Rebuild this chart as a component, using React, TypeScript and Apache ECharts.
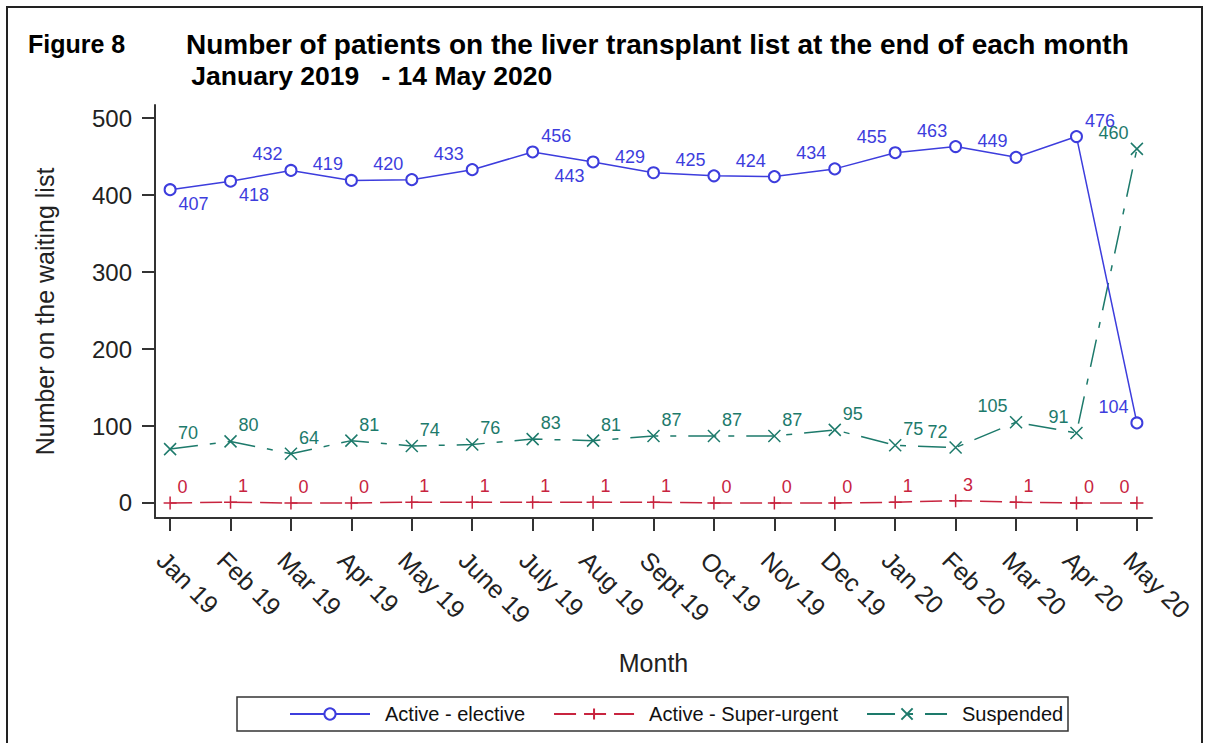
import React, { useEffect, useRef } from "react";
import * as echarts from "echarts";

const months = ["Jan 19", "Feb 19", "Mar 19", "Apr 19", "May 19", "June 19", "July 19", "Aug 19", "Sept 19", "Oct 19", "Nov 19", "Dec 19", "Jan 20", "Feb 20", "Mar 20", "Apr 20", "May 20"];
const activeElective = [407, 418, 432, 419, 420, 433, 456, 443, 429, 425, 424, 434, 455, 463, 449, 476, 104];
const activeSuperUrgent = [0, 1, 0, 0, 1, 1, 1, 1, 1, 0, 0, 0, 1, 3, 1, 0, 0];
const suspended = [70, 80, 64, 81, 74, 76, 83, 81, 87, 87, 87, 95, 75, 72, 105, 91, 460];
const yTicks = [0, 100, 200, 300, 400, 500];

// label placement codes: u/d = above/below, l/r = left/right
const electiveLabelPos = ["dr", "dr", "ul", "ul", "ul", "ul", "ur", "dl", "ul", "ul", "ul", "ul", "ul", "ul", "ul", "ur", "ul"];
const urgentLabelPos = ["ur", "ur", "ur", "ur", "ur", "ur", "ur", "ur", "ur", "ur", "ur", "ur", "ur", "ur", "ur", "ur", "ul"];
const suspendedLabelPos = ["ur", "ur", "ur", "ur", "ur", "ur", "ur", "ur", "ur", "ur", "ur", "ur", "ur", "ul", "ul", "ul", "ul"];

const BLUE = "#3d3ddd";
const RED = "#c8243f";
const TEAL = "#1d7a6b";
const AXIS = "#333333";
const FONT = "'Liberation Sans', Arial, sans-serif";

function buildData(values: number[], pos: string[]) {
  return values.map((v, i) => {
    const txt = String(v);
    const p = pos[i];
    const dx = (5.5 * txt.length + 7) * (p[1] === "r" ? 1 : -1);
    const dy = p[0] === "u" ? -16 : 14;
    return { value: [i, v], label: { offset: [dx, dy] } };
  });
}

const monthIdx = months.map((_, i) => i);

export default function App() {
  const ref = useRef<HTMLDivElement>(null);
  useEffect(() => {
    if (!ref.current) return;
    const chart = echarts.init(ref.current, null, { renderer: "svg" });
    const labelBase = (color: string) => ({
      show: true,
      position: "inside",
      color,
      fontSize: 18,
      fontFamily: FONT,
      formatter: (p: any) => String(p.value[1]),
    });
    chart.setOption({
      animation: false,
      backgroundColor: "#ffffff",
      textStyle: { fontFamily: FONT },
      grid: { left: 155, right: 56, top: 105, bottom: 225, containLabel: false },
      graphic: [
        { type: "rect", shape: { x: 7, y: 7, width: 1195, height: 780 }, style: { fill: "none", stroke: "#222", lineWidth: 2 }, silent: true },
        { type: "text", x: 28, y: 44, style: { text: "Figure 8", fontSize: 25, fontWeight: "bold", fontFamily: FONT, fill: "#000", verticalAlign: "middle" } },
        { type: "text", x: 186, y: 44, style: { text: "Number of patients on the liver transplant list at the end of each month", fontSize: 28, fontWeight: "bold", fontFamily: FONT, fill: "#000", verticalAlign: "middle" } },
        { type: "text", x: 184, y: 76, style: { text: " January 2019   - 14 May 2020", fontSize: 26.5, fontWeight: "bold", fontFamily: FONT, fill: "#000", verticalAlign: "middle" } },
        { type: "rect", shape: { x: 237, y: 697, width: 831, height: 34 }, style: { fill: "none", stroke: AXIS, lineWidth: 1.5 }, silent: true },
      ],
      legend: {
        left: 289,
        top: 704,
        padding: 0,
        itemWidth: 80,
        itemHeight: 14,
        itemGap: 28,
        textStyle: { fontSize: 20, color: "#111", fontFamily: FONT, padding: [0, 0, 0, 10] },
        data: ["Active - elective", "Active - Super-urgent", "Suspended"],
      },
      xAxis: {
        type: "value",
        min: -0.25,
        max: 16.25,
        name: "Month",
        nameLocation: "middle",
        nameGap: 132,
        nameTextStyle: { fontSize: 25, color: "#222", fontFamily: FONT },
        axisLine: { show: true, onZero: false, lineStyle: { color: AXIS, width: 2 } },
        axisTick: { show: true, length: 13, customValues: monthIdx, lineStyle: { color: AXIS, width: 2 } },
        axisLabel: {
          customValues: monthIdx,
          formatter: (v: number) => months[Math.round(v)] ?? "",
          rotate: -45,
          align: "left",
          verticalAlign: "top",
          margin: 29,
          fontSize: 25,
          color: "#222",
          fontFamily: FONT,
        },
        splitLine: { show: false },
      },
      yAxis: {
        type: "value",
        min: -19.5,
        max: 517,
        name: "Number on the waiting list",
        nameLocation: "middle",
        nameGap: 98,
        nameTextStyle: { fontSize: 25, color: "#222", fontFamily: FONT },
        axisLine: { show: true, onZero: false, lineStyle: { color: AXIS, width: 2 } },
        axisTick: { show: true, length: 13, customValues: yTicks, lineStyle: { color: AXIS, width: 2 } },
        axisLabel: { customValues: yTicks, margin: 23, fontSize: 24, color: "#222", fontFamily: FONT },
        splitLine: { show: false },
      },
      series: [
        {
          name: "Active - elective",
          type: "line",
          data: buildData(activeElective, electiveLabelPos),
          symbol: "emptyCircle",
          symbolSize: 11,
          showAllSymbol: true,
          lineStyle: { color: BLUE, width: 1.5 },
          itemStyle: { color: BLUE, borderColor: BLUE, borderWidth: 1.5 },
          label: labelBase(BLUE),
          z: 4,
        },
        {
          name: "Active - Super-urgent",
          type: "line",
          data: buildData(activeSuperUrgent, urgentLabelPos),
          symbol: "path://M0,6L12,6M6,0L6,12",
          symbolSize: 13,
          showAllSymbol: true,
          lineStyle: { color: RED, width: 1.5, type: [22, 8] },
          itemStyle: { color: RED, borderColor: RED, borderWidth: 1.5 },
          label: labelBase(RED),
          z: 3,
        },
        {
          name: "Suspended",
          type: "line",
          data: buildData(suspended, suspendedLabelPos),
          symbol: "path://M0,0L10,10M10,0L0,10",
          symbolSize: 12,
          showAllSymbol: true,
          lineStyle: { color: TEAL, width: 1.5, type: [28, 12, 6, 12] },
          itemStyle: { color: TEAL, borderColor: TEAL, borderWidth: 1.5 },
          label: labelBase(TEAL),
          z: 3,
        },
      ],
    });
    return () => chart.dispose();
  }, []);
  return <div ref={ref} style={{ position: "absolute", left: 0, top: 0, width: 1208, height: 743 }} />;
}
